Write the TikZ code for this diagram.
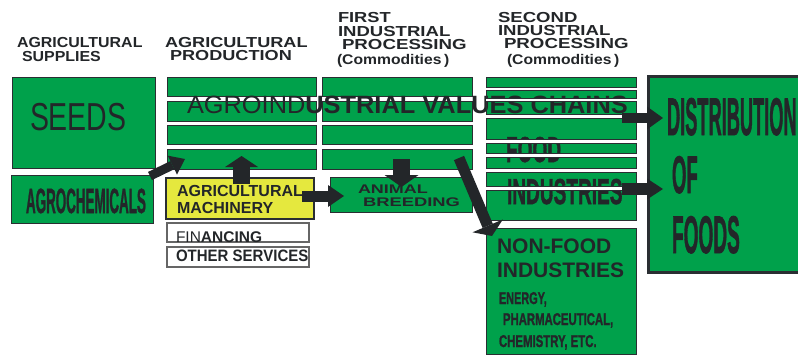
\documentclass[tikz,border=0pt]{standalone}
\usepackage{fontspec}
\usepackage{graphicx}
\setmainfont{Liberation Sans}
% heavier bold for the strongly condensed lettering
\newfontfamily\heavy{Liberation Sans}[BoldFeatures={FakeBold=1.6}]
\usetikzlibrary{arrows.meta,shadows}

\definecolor{leaf}{RGB}{0,161,75}
\definecolor{lemon}{RGB}{229,232,62}
\definecolor{ink}{RGB}{35,38,41}
\definecolor{edge}{RGB}{42,46,50}
\definecolor{shade}{RGB}{160,160,160}

% horizontal scaling of a piece of text
\newcommand\hs[2]{\scalebox{#1}[1]{#2}}
% box given by its corners: style, name, x1, y1, x2, y2
\newcommand\panel[6]{\node[#1,anchor=north west,minimum width={(#5-#3)*1pt},minimum height={(#6-#4)*1pt}] (#2) at (#3,#4) {};}

\tikzset{
  base/.style={rectangle,inner sep=0pt,outer sep=0pt},
  strip/.style={base,fill=leaf,draw=edge,line width=0.9pt,
    drop shadow={shadow xshift=0.8pt,shadow yshift=-1.2pt,fill=shade,opacity=1}},
  stripfill/.style={base,fill=leaf},
  stripedge/.style={draw=edge,line width=0.9pt},
  bigbox/.style={base,fill=leaf,draw=edge,line width=1pt},
  machbox/.style={base,fill=lemon,draw=edge,line width=2.6pt},
  plainbox/.style={base,fill=white,draw=gray!80!black,line width=1.2pt},
  distbox/.style={base,fill=leaf,draw=edge,line width=3pt},
  lbl/.style={inner sep=0pt,outer sep=0pt,anchor=base west,text=ink},
  blockarrow/.style n args={3}{draw=ink,line width=#1,
    -{Triangle[width=#2,length=#3,line width=0pt]}},
}

\begin{document}
\begin{tikzpicture}[x=1pt,y=-1pt]
\path[use as bounding box,fill=white] (0,0) rectangle (798,356);
\clip (0,0) rectangle (798,356);

% agricultural supplies
\panel{bigbox}{seeds}{12}{77}{155}{168}
\panel{bigbox}{agchem}{11}{175}{153}{223}

% agricultural production
\panel{strip}{p1}{167}{77}{316}{96}
\panel{strip}{p2}{167}{101}{316}{121}
\panel{strip}{p3}{167}{125}{316}{144}
\panel{strip}{p4}{167}{149}{316}{169}
\panel{machbox}{mach}{166}{178}{314}{219}
\panel{plainbox}{fin}{167}{223}{309}{242}
\panel{plainbox}{oth}{167}{247}{309}{267}

% first industrial processing
\panel{strip}{r1}{322}{77}{472}{96}
\panel{strip}{r2}{322}{101}{472}{121}
\panel{strip}{r3}{322}{125}{472}{144}
\panel{strip}{r4}{322}{149}{472}{169}
\panel{bigbox}{anim}{330}{177}{472}{212}

% second industrial processing (edges are added over the lettering)
\panel{stripfill}{q1}{486}{77}{636}{87}
\panel{stripfill}{q2}{486}{90}{636}{98}
\panel{stripfill}{q3}{486}{101}{636}{114}
\panel{stripfill}{q4}{486}{118}{636}{139}
\panel{stripfill}{q5}{486}{143}{636}{153}
\panel{stripfill}{q6}{486}{157}{636}{168}
\panel{stripfill}{q7}{486}{172}{636}{186}
\panel{stripfill}{q8}{486}{190}{636}{220}
\panel{bigbox}{nonfood}{486}{228}{636}{354}

% distribution
\panel{distbox}{dist}{648}{76}{812}{272}

% column headings
\begin{scope}[every node/.style={lbl,font=\fontsize{14.5}{14.5}\selectfont\bfseries}]
\node (h1a) at (17,47) {\hs{1.1}{AGRICULTURAL}};
\node (h1b) at (22,61) {\hs{1.1}{SUPPLIES}};
\node (h2a) at (165,47) {\hs{1.25}{AGRICULTURAL}};
\node (h2b) at (170,60.5) {\hs{1.25}{PRODUCTION}};
\node (h3a) at (338,23) {\hs{1.26}{FIRST}};
\node (h3b) at (338,36) {\hs{1.28}{INDUSTRIAL}};
\node (h3c) at (342,49) {\hs{1.29}{PROCESSING}};
\node (h4a) at (498,22) {\hs{1.28}{SECOND}};
\node (h4b) at (498,35) {\hs{1.28}{INDUSTRIAL}};
\node (h4c) at (504,48) {\hs{1.29}{PROCESSING}};
\end{scope}
\begin{scope}[every node/.style={lbl,font=\fontsize{14}{14}\selectfont\bfseries}]
\node (h3d) at (337,64) {\hs{1.12}{(Commodities\,)}};
\node (h4d) at (507,64) {\hs{1.12}{(Commodities\,)}};
\end{scope}

% box lettering
\node[lbl,font=\fontsize{39}{39}\selectfont] (tseeds) at (30,130) {\hs{0.73}{SEEDS}};
\node[lbl,font=\fontsize{35}{35}\selectfont\heavy\bfseries] (tagchem) at (26,213) {\hs{0.383}{AGROCHEMICALS}};
\node[lbl,font=\fontsize{16}{16}\selectfont\bfseries] (tmach1) at (177,196) {AGRICULTURAL};
\node[lbl,font=\fontsize{16}{16}\selectfont\bfseries] (tmach2) at (177,213) {MACHINERY};
\node[lbl,font=\fontsize{15.5}{15.5}\selectfont] (tfin) at (176,242) {FIN\textbf{ANCING}};
\node[lbl,font=\fontsize{16.5}{16.5}\selectfont\bfseries] (toth) at (176,261) {\hs{0.91}{OTHER SERVICES}};
\node[lbl,font=\fontsize{12.5}{12.5}\selectfont\bfseries] (tanim1) at (358,193) {\hs{1.44}{ANIMAL}};
\node[lbl,font=\fontsize{12.5}{12.5}\selectfont\bfseries] (tanim2) at (363,206) {\hs{1.47}{BREEDING}};
\node[lbl,font=\fontsize{36}{36}\selectfont\heavy\bfseries] (tfood1) at (506,162) {\hs{0.53}{FOOD}};
\node[lbl,font=\fontsize{36}{36}\selectfont\heavy\bfseries] (tfood2) at (507,204) {\hs{0.53}{INDUSTRIES}};
\node[lbl,font=\fontsize{21}{21}\selectfont\bfseries] (tnf1) at (497,253) {NON-FOOD};
\node[lbl,font=\fontsize{21}{21}\selectfont\bfseries] (tnf2) at (497,277) {INDUSTRIES};
\node[lbl,font=\fontsize{17}{17}\selectfont\heavy\bfseries] (tnf3) at (499,304) {\hs{0.64}{ENERGY,}};
\node[lbl,font=\fontsize{17}{17}\selectfont\heavy\bfseries] (tnf4) at (503,325) {\hs{0.667}{PHARMACEUTICAL,}};
\node[lbl,font=\fontsize{17}{17}\selectfont\heavy\bfseries] (tnf5) at (499,347) {\hs{0.67}{CHEMISTRY, ETC.}};
\node[lbl,font=\fontsize{53}{53}\selectfont\heavy\bfseries] (tdist1) at (667,135) {\hs{0.344}{DISTRIBUTION}};
\node[lbl,font=\fontsize{53}{53}\selectfont\heavy\bfseries] (tdist2) at (672,193) {\hs{0.35}{OF}};
\node[lbl,font=\fontsize{53}{53}\selectfont\heavy\bfseries] (tdist3) at (672,253) {\hs{0.36}{FOODS}};

% title across the chain
\node[lbl,font=\fontsize{25}{25}\selectfont] (title) at (187,113) {\hs{1.015}{AGROIND\textbf{USTRIAL VALUES CHAINS}}};

% second processing strips: white gaps and edges over the lettering
\foreach \a/\b in {q1/q2,q2/q3,q3/q4,q4/q5,q5/q6,q6/q7,q7/q8}
  \fill[white] (\a.south west) rectangle (\b.north east);
\foreach \q in {q1,q2,q3,q4,q5,q6,q7,q8}
  \draw[stripedge] (\q.north west) rectangle (\q.south east);

% flows
\coordinate (a1s) at (150,176);  \coordinate (a1e) at (185,159);
\coordinate (a2s) at (241.5,184); \coordinate (a2e) at (241.5,156);
\coordinate (a3s) at (302,196);  \coordinate (a3e) at (344,196);
\coordinate (a4s) at (401.5,159); \coordinate (a4e) at (401.5,187);
\coordinate (a5s) at (459,158);  \coordinate (a5e) at (492,236);
\coordinate (a6s) at (622,118);  \coordinate (a6e) at (663,118);
\coordinate (a7s) at (622,189);  \coordinate (a7e) at (663,189);

\draw[blockarrow={9pt}{21pt}{14pt}] (a1s) -- (a1e);
\draw[blockarrow={17pt}{33pt}{11pt}] (a2s) -- (a2e);
\draw[blockarrow={11pt}{22pt}{16pt}] (a3s) -- (a3e);
\draw[blockarrow={17pt}{34pt}{12pt}] (a4s) -- (a4e);
\draw[blockarrow={11pt}{33pt}{11pt}] (a5s) -- (a5e);
\draw[blockarrow={10pt}{23pt}{16pt}] (a6s) -- (a6e);
\draw[blockarrow={12pt}{21pt}{16pt}] (a7s) -- (a7e);
\end{tikzpicture}
\end{document}
